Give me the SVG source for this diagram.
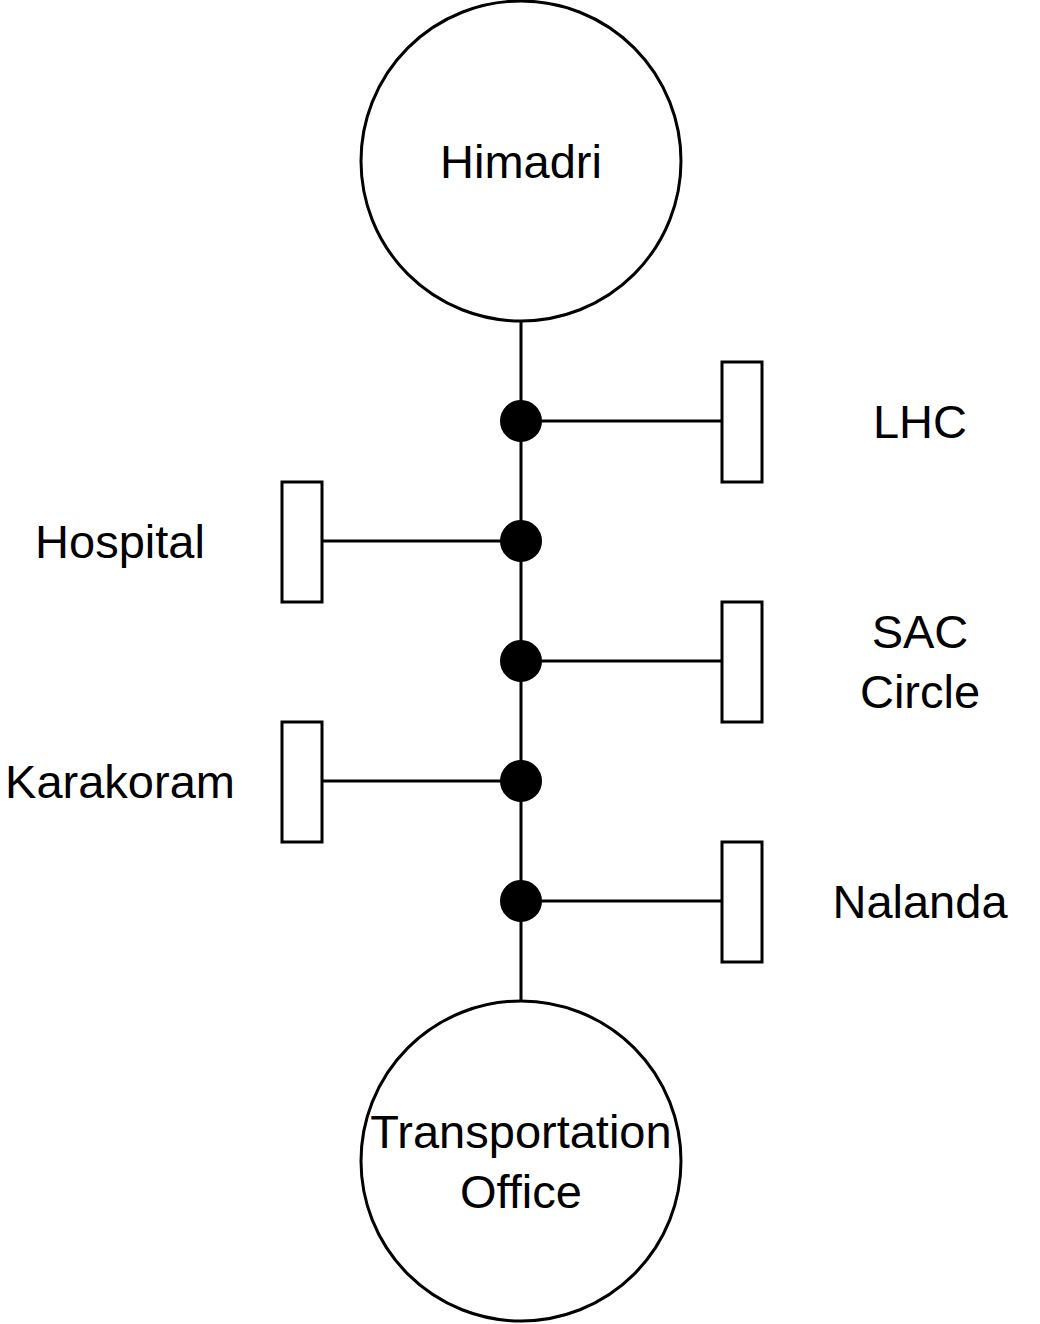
<svg xmlns="http://www.w3.org/2000/svg" width="1040" height="1324" viewBox="0 0 1040 1324">
<style>
.shape{fill:#fff;stroke:#000;stroke-width:3}
.dot{fill:#000;stroke:#000;stroke-width:2}
.edge{fill:none;stroke:#000;stroke-width:3}
text{font-family:"Liberation Sans",Arial,sans-serif;font-size:47px;fill:#000;text-anchor:middle;dominant-baseline:central}
</style>
<rect width="1040" height="1324" fill="#fff"/>
<g id="connectors">
<line class="edge" x1="521" y1="322" x2="521" y2="1001"/>
<line class="edge" x1="521" y1="421" x2="722" y2="421"/>
<line class="edge" x1="322" y1="541" x2="521" y2="541"/>
<line class="edge" x1="521" y1="661" x2="722" y2="661"/>
<line class="edge" x1="322" y1="781" x2="521" y2="781"/>
<line class="edge" x1="521" y1="901" x2="722" y2="901"/>
</g>
<g id="himadri"><circle class="shape" cx="521" cy="161" r="160"/><text x="521" y="161">Himadri</text></g>
<g id="transport"><circle class="shape" cx="521" cy="1161" r="160"/><text x="521" y="1131">Transportation</text><text x="521" y="1191">Office</text></g>
<g id="dot1"><circle class="dot" cx="521" cy="421" r="20"/></g>
<g id="dot2"><circle class="dot" cx="521" cy="541" r="20"/></g>
<g id="dot3"><circle class="dot" cx="521" cy="661" r="20"/></g>
<g id="dot4"><circle class="dot" cx="521" cy="781" r="20"/></g>
<g id="dot5"><circle class="dot" cx="521" cy="901" r="20"/></g>
<g id="lhc"><rect class="shape" x="722" y="362" width="40" height="120"/><text x="920" y="421">LHC</text></g>
<g id="hospital"><rect class="shape" x="282" y="482" width="40" height="120"/><text x="120" y="541">Hospital</text></g>
<g id="sac"><rect class="shape" x="722" y="602" width="40" height="120"/><text x="920" y="631">SAC</text><text x="920" y="691">Circle</text></g>
<g id="karakoram"><rect class="shape" x="282" y="722" width="40" height="120"/><text x="120" y="781">Karakoram</text></g>
<g id="nalanda"><rect class="shape" x="722" y="842" width="40" height="120"/><text x="920" y="901">Nalanda</text></g>
</svg>
